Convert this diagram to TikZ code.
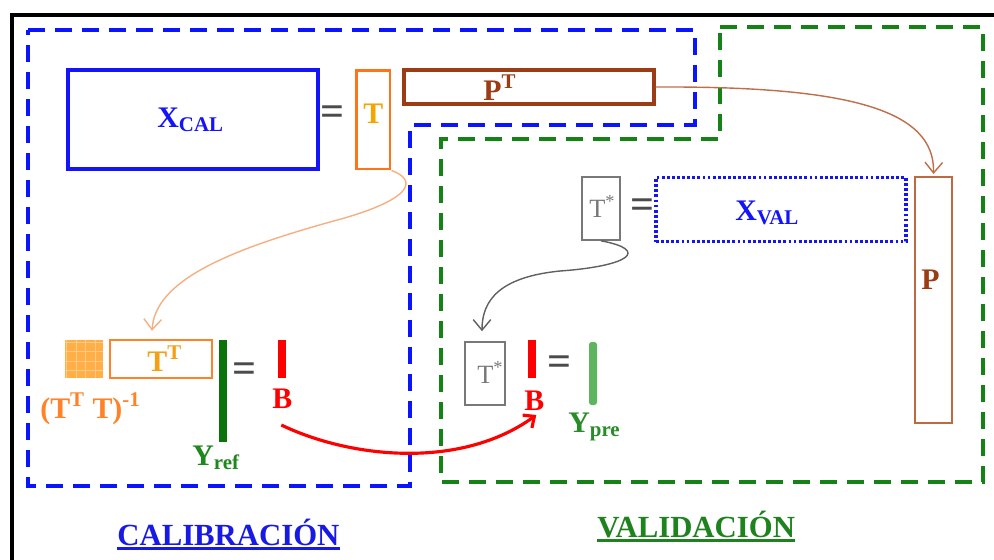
\documentclass[tikz,border=0pt]{standalone}
\usepackage{fontspec}
\setmainfont{Liberation Serif}
\usetikzlibrary{arrows.meta}
\definecolor{xblue}{RGB}{20,20,250}
\definecolor{regblue}{RGB}{10,20,255}
\definecolor{reggreen}{RGB}{20,130,20}
\definecolor{orangebox}{RGB}{255,115,25}
\definecolor{tyellow}{RGB}{245,165,0}
\definecolor{brownbox}{RGB}{155,60,20}
\definecolor{pbrown}{RGB}{190,105,65}
\definecolor{arrowbrown}{RGB}{190,110,75}
\definecolor{tgray}{RGB}{120,120,120}
\definecolor{eqgray}{RGB}{75,75,75}
\definecolor{ttorange}{RGB}{255,130,40}
\definecolor{ttext}{RGB}{245,160,20}
\definecolor{sqorange}{RGB}{255,175,70}
\definecolor{curveorange}{RGB}{245,175,130}
\definecolor{yrefc}{RGB}{10,115,10}
\definecolor{yreflab}{RGB}{30,135,30}
\definecolor{yprec}{RGB}{95,180,95}
\definecolor{ypreLab}{RGB}{40,140,40}
\definecolor{calblue}{RGB}{25,25,230}
\definecolor{valgreen}{RGB}{30,130,30}
\begin{document}
\begin{tikzpicture}[x=0.02cm,y=-0.02cm,
  font=\fontsize{17}{20}\selectfont\bfseries,
  region/.style={line width=0.08cm, dash pattern=on 0.34cm off 0.2cm},
  mat/.style={draw, rectangle, inner sep=0pt},
  bar/.style={rectangle, inner sep=0pt, minimum width=0.16cm, draw=none},
  lab/.style={inner sep=0pt, anchor=base west},
  eqsign/.style={inner sep=0pt, text=eqgray, font=\fontsize{24}{26}\selectfont\bfseries},
  thin/.style={font=\fontsize{15}{18}\selectfont, text=tgray},
  link/.style={line width=0.8pt, -{Straight Barb[length=6pt,width=10pt]}}]
\useasboundingbox (0,0) rectangle (994,559);
\begin{scope}
\clip (0,0) rectangle (994,559);
\draw[line width=1.8pt] (12,620) -- (12,15) -- (1100,15);
\end{scope}
% regions
\draw[region, regblue] (28,30) -- (695,30) -- (695,125) -- (410,125) -- (410,486) -- (28,486) -- cycle;
\draw[region, reggreen] (720,27) -- (983,27) -- (983,482) -- (441,482) -- (441,139) -- (720,139) -- cycle;
% calibration top
\node[mat, draw=xblue, line width=2.3pt, minimum width=5cm, minimum height=1.98cm] (xcal) at (193,119.5) {};
\node[lab, text=xblue] (xcallab) at (157,127) {X\textsubscript{CAL}};
\node[eqsign] (eq1) at (333,116) {=};
\node[mat, draw=orangebox, line width=1.7pt, minimum width=0.68cm, minimum height=1.98cm] (tbox) at (373,119.5) {};
\node[lab, text=tyellow] (tlab) at (363,123) {T};
\node[mat, draw=brownbox, line width=1.8pt, minimum width=5cm, minimum height=0.68cm] (ptbox) at (529,87) {};
\node[lab, text=brownbox] (ptlab) at (483,100) {P\textsuperscript{T}};
% validation
\node[mat, draw=pbrown, line width=1.2pt, minimum width=0.74cm, minimum height=4.92cm] (pbox) at (933.5,300) {};
\node[lab, text=brownbox] (plab) at (921,289) {P};
\node[mat, draw=tgray, line width=0.9pt, minimum width=0.76cm, minimum height=1.26cm] (tstar) at (601,208.5) {};
\node[lab, thin] (tstarlab) at (589,217) {T\textsuperscript{*}};
\node[eqsign] (eq2) at (643,209) {=};
\node[mat, draw=xblue, line width=1.8pt, dash pattern=on 1.6pt off 1.3pt, minimum width=5cm, minimum height=1.28cm] (xval) at (781,209.5) {};
\node[lab, text=xblue] (xvallab) at (735,220) {X\textsubscript{VAL}};
\node[mat, draw=tgray, line width=0.9pt, minimum width=0.8cm, minimum height=1.26cm] (tstar2) at (485,373.5) {};
\node[lab, thin] (tstar2lab) at (477,383) {T\textsuperscript{*}};
\node[bar, fill=red, minimum height=0.76cm] (bv) at (532,359) {};
\node[lab, text=red] (bvlab) at (524,410) {B};
\node[eqsign] (eq4) at (560,366) {=};
\node[bar, fill=yprec, minimum height=1.26cm, rounded corners=1.5pt] (ypre) at (593,373.5) {};
\node[lab, text=ypreLab] (ypreLab) at (568,432) {Y\textsubscript{pre}};
% calibration bottom
\node[rectangle, fill=sqorange, inner sep=0pt, minimum size=0.76cm] (sq) at (84,359) {};
\begin{scope}
\clip (sq.south west) rectangle (sq.north east);
\draw[white, opacity=0.35, line width=0.4pt, step=0.19cm] (sq.south west) grid (sq.north east);
\end{scope}
\node[lab, text=ttorange] (sqlab) at (40,418) {(T\textsuperscript{T} T)\textsuperscript{-1}};
\node[mat, draw=ttorange, line width=1.4pt, minimum width=2.04cm, minimum height=0.76cm] (ttbox) at (161,359) {};
\node[lab, text=ttext] (ttlab) at (147,371) {T\textsuperscript{T}};
\node[bar, fill=yrefc, minimum height=2.04cm] (yref) at (223,391) {};
\node[lab, text=yreflab] (yreflab) at (192,465) {Y\textsubscript{ref}};
\node[eqsign] (eq3) at (245,373) {=};
\node[bar, fill=red, minimum height=0.76cm] (bc) at (282,359) {};
\node[lab, text=red] (bclab) at (272,408) {B};
% connectors
\draw[link, arrowbrown] (ptbox.east) .. controls (850,86) and (935,110) .. ([shift={(0,-2)}]pbox.north);
\draw[link, curveorange] (tbox.south east) .. controls (418,180) and (414,200) .. (330,222) .. controls (230,250) and (155,280) .. ([shift={(-9,-8)}]ttbox.north);
\draw[link, tgray!80!black] (tstar.south) .. controls (650,250) and (630,266) .. (560,271) .. controls (500,277) and (482,300) .. ([shift={(-3,-10)}]tstar2.north);
\draw[red, line width=1.8pt, -{Straight Barb[length=5pt,width=9pt]}] ([shift={(-1,17)}]bclab.base) .. controls (350,458) and (460,470) .. ([shift={(2,5)}]bvlab.base);
% titles
\node[lab, text=calblue, font=\fontsize{17.5}{20}\selectfont\bfseries] (cal) at (117,545) {CALIBRACIÓN};
\draw[calblue, line width=1.3pt] ([yshift=-2pt]cal.base west) -- ([yshift=-2pt]cal.base east);
\node[lab, text=valgreen, font=\fontsize{17.5}{20}\selectfont\bfseries] (val) at (597,537) {VALIDACIÓN};
\draw[valgreen, line width=1.3pt] ([yshift=-2pt]val.base west) -- ([yshift=-2pt]val.base east);
\end{tikzpicture}
\end{document}
